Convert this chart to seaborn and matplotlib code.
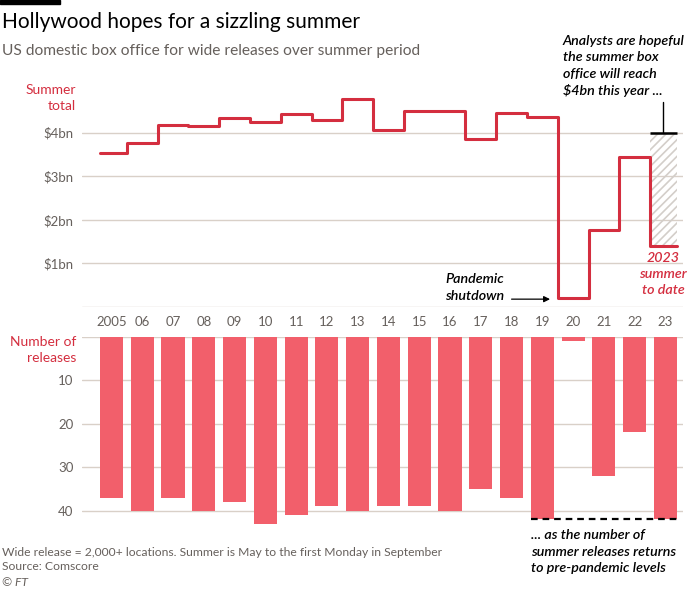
import numpy as np
import pandas as pd
import matplotlib
matplotlib.use("Agg")
import matplotlib.pyplot as plt
import seaborn as sns

years = ["2005", "06", "07", "08", "09", "10", "11", "12", "13", "14",
         "15", "16", "17", "18", "19", "20", "21", "22", "23"]
box_office_bn = [3.54, 3.75, 4.17, 4.15, 4.34, 4.24, 4.42, 4.29, 4.76, 4.06,
                 4.50, 4.49, 3.85, 4.44, 4.35, 0.20, 1.77, 3.45, 1.41]
releases = [37, 40, 37, 40, 38, 43, 41, 39, 40, 39,
            39, 40, 35, 37, 42, 1, 32, 22, 42]
target_bn = 4.0
pre_pandemic_releases = 42

top_ticks = [0, 1, 2, 3, 4]
top_ticklabels = ["", "$1bn", "$2bn", "$3bn", "$4bn"]
bottom_ticks = [0, 10, 20, 30, 40]
bottom_ticklabels = ["", "10", "20", "30", "40"]

RED_LINE = "#d42e3f"
RED_BAR = "#f25f6b"
GRID = "#d9d0c8"
GREY = "#66605c"
HALF = 0.375  # half bar width

sns.set_style("white")
plt.rcParams["font.family"] = ["Lato", "DejaVu Sans"]
plt.rcParams["hatch.linewidth"] = 1.2

W, H = 700, 592
fig = plt.figure(figsize=(W / 100, H / 100), dpi=100)


def fx(x):
    return x / W


def fy(y):
    return 1 - y / H


ax1 = fig.add_axes([fx(82), fy(307), (683 - 82) / W, (307 - 80) / H])
ax2 = fig.add_axes([fx(82), fy(532.5), (683 - 82) / W, (532.5 - 336.7) / H])

n = len(years)
xlim = (-0.958, 18.57)

# ---- top: summer total step line ----
edges = np.concatenate([[-HALF], np.arange(n - 1) + 0.5, [n - 1 + HALF]])
step_df = pd.DataFrame({"x": edges, "y": box_office_bn + [box_office_bn[-1]]})
sns.lineplot(data=step_df, x="x", y="y", ax=ax1, color=RED_LINE, linewidth=2.2,
             drawstyle="steps-post", estimator=None, sort=False)

# hatched gap to target for 2023
ax1.fill_between([n - 1.5, n - 1 + HALF], box_office_bn[-1], target_bn,
                 facecolor="none", edgecolor="#d3cec9", hatch="////",
                 linewidth=0, zorder=1)
ax1.plot([n - 1.5, n - 1 + HALF], [target_bn, target_bn], color="black",
         lw=1.8, solid_capstyle="butt", zorder=4)
ax1.plot([n - 1 - 0.08, n - 1 - 0.08], [target_bn, 4.71], color="black", lw=1)

ax1.set_xlim(*xlim)
ax1.set_ylim(0, 5.206)
ax1.set_yticks(top_ticks)
ax1.set_yticklabels(top_ticklabels)
ax1.set_xticks([])
ax1.grid(axis="y", color=GRID, lw=1)
ax1.set_axisbelow(True)
ax1.tick_params(axis="y", length=0, pad=6, labelsize=9.5, labelcolor=GREY)
for s in ax1.spines.values():
    s.set_visible(False)
ax1.set_xlabel("")
ax1.set_ylabel("")

ax1.annotate("", xy=(14.25, 0.18), xytext=(13.0, 0.18),
             arrowprops=dict(arrowstyle="-|>", color="black", lw=0.9,
                             mutation_scale=9, shrinkA=0, shrinkB=0))

# ---- bottom: number of releases ----
bar_df = pd.DataFrame({"year": years, "releases": releases})
sns.barplot(data=bar_df, x="year", y="releases", ax=ax2, color=RED_BAR,
            saturation=1, width=0.75, linewidth=0, zorder=2)
ax2.set_xlim(*xlim)
ax2.set_ylim(45, 0)
ax2.set_yticks(bottom_ticks)
ax2.set_yticklabels(bottom_ticklabels)
ax2.xaxis.tick_top()
ax2.tick_params(axis="x", length=0, pad=6, labelsize=9.5, labelcolor=GREY)
ax2.tick_params(axis="y", length=0, pad=6, labelsize=9.5, labelcolor=GREY)
ax2.grid(axis="y", color=GRID, lw=1)
ax2.set_axisbelow(True)
for s in ax2.spines.values():
    s.set_visible(False)
ax2.set_xlabel("")
ax2.set_ylabel("")
ax2.hlines(pre_pandemic_releases, 14 - HALF, n - 1 + HALF, colors="black",
           linestyles=(0, (3, 2.2)), lw=1.6, zorder=3)

# ---- text ----
fig.patches.append(plt.Rectangle((0, fy(4)), fx(60), 4 / H, transform=fig.transFigure,
                                 color="black"))
fig.text(fx(2), fy(22), "Hollywood hopes for a sizzling summer", fontsize=15,
         color="black", va="center")
fig.text(fx(2), fy(51), "US domestic box office for wide releases over summer period",
         fontsize=11.2, color=GREY, va="center")

fig.text(fx(76), fy(98), "Summer\ntotal", fontsize=10, color=RED_LINE,
         ha="right", va="center", linespacing=1.45)
fig.text(fx(76), fy(350), "Number of\nreleases", fontsize=10, color=RED_LINE,
         ha="right", va="center", linespacing=1.45)

ital = dict(style="italic", fontweight="semibold", fontsize=10.3, linespacing=1.45)
fig.text(fx(563), fy(66), "Analysts are hopeful\nthe summer box\noffice will reach\n$4bn this year ...",
         color="black", ha="left", va="center", **ital)
fig.text(fx(504), fy(287.5), "Pandemic\nshutdown", color="black", ha="right",
         va="center", **ital)
fig.text(fx(663), fy(274), "2023\nsummer\nto date", color=RED_LINE, ha="center",
         va="center", **ital)
fig.text(fx(531), fy(552), "... as the number of\nsummer releases returns\nto pre-pandemic levels",
         color="black", ha="left", va="center", **ital)

fig.text(fx(2), fy(552), "Wide release = 2,000+ locations. Summer is May to the first Monday in September",
         fontsize=8.7, color=GREY, va="center")
fig.text(fx(2), fy(567), "Source: Comscore", fontsize=8.7, color=GREY, va="center")
fig.text(fx(2), fy(583), "© FT", fontsize=8.7, color=GREY, va="center", style="italic")

fig.savefig("out.png", dpi=100)
